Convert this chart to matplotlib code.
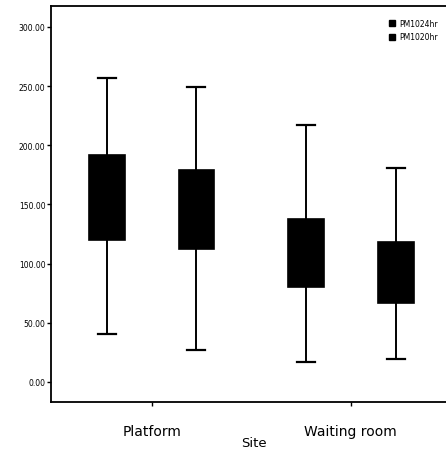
import matplotlib
matplotlib.use("Agg")
import matplotlib.pyplot as plt
from matplotlib.patches import Patch

sites = ["Platform", "Waiting room"]
series = ["PM1024hr", "PM1020hr"]
# per series, per site
whislo = [[40.6, 17.0], [27.0, 19.4]]
q1 = [[120.0, 80.0], [112.4, 66.8]]
med = [[155.0, 105.0], [145.0, 92.0]]
q3 = [[191.8, 137.7], [179.5, 118.6]]
whishi = [[256.9, 217.0], [249.0, 180.8]]
yticks = [0, 50, 100, 150, 200, 250, 300]

fig = plt.figure(figsize=(4.46, 4.52), dpi=100)
ax = fig.add_axes([51/446, 1-403/452, 1-51/446+0.01, (403-7)/452])

offsets = [-0.225, 0.225]
for s in range(2):
    stats = []
    for i in range(2):
        stats.append(dict(whislo=whislo[s][i], q1=q1[s][i], med=med[s][i],
                          q3=q3[s][i], whishi=whishi[s][i], fliers=[]))
    ax.bxp(stats, positions=[i + 1 + offsets[s] for i in range(2)], widths=0.18,
           capwidths=0.09, patch_artist=True,
           boxprops=dict(facecolor="black", edgecolor="black", linewidth=1.2),
           whiskerprops=dict(color="black", linewidth=1.4),
           capprops=dict(color="black", linewidth=1.6),
           medianprops=dict(visible=False), manage_ticks=False)

ax.set_xlim(0.495, 2.5)
ax.set_ylim(-16.9, 317.7)
ax.set_xticks([1, 2])
ax.set_xticklabels(sites, fontsize=10)
ax.set_yticks(yticks)
ax.set_yticklabels([f"{v:.2f}" for v in yticks], fontsize=5.5)
ax.tick_params(axis="y", length=3, width=1, pad=1)
ax.tick_params(axis="x", length=3, width=1, pad=13)
ax.set_xlabel("Site", fontsize=9.5, va="top")
ax.xaxis.set_label_coords((252-51)/(446-51), -0.087)
for sp in ["left", "bottom", "top"]:
    ax.spines[sp].set_linewidth(1.3)
ax.spines["right"].set_visible(False)

handles = [Patch(facecolor="black", edgecolor="black", label=l) for l in series]
ax.legend(handles=handles, loc="upper right", bbox_to_anchor=(0.985, 0.985),
          frameon=False, fontsize=5.5, handlelength=0.8, handleheight=0.8,
          handletextpad=0.5, labelspacing=0.6)

fig.savefig("out.png", dpi=100)
